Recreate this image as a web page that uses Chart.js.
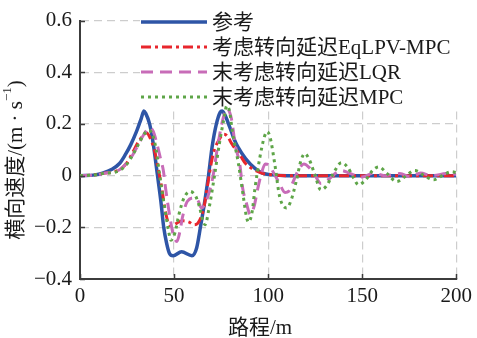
<!DOCTYPE html>
<html>
<head>
<meta charset="utf-8">
<script src="https://cdn.jsdelivr.net/npm/chart.js@4/dist/chart.umd.min.js"></script>
<style>
  html, body { margin: 0; padding: 0; background: #fff; }
</style>
</head>
<body>
<canvas id="graficoVelocidad" width="477" height="338"></canvas>
<script>
const FUENTE = "'Liberation Serif', 'Times New Roman', 'DejaVu Serif', 'Noto Sans CJK SC', serif";

// Nombres de las series (leyenda)
const nombres = ['参考', '考虑转向延迟EqLPV-MPC', '末考虑转向延迟LQR', '末考虑转向延迟MPC'];

// Referencia
const xRef = [0, 8, 12, 17, 21, 24, 27, 30, 32.5, 34, 35, 37, 39, 41.2, 43, 44.5, 46, 47.5, 49.5, 54, 59.5, 62, 64, 66.3, 68.3, 70.2, 72.5, 74.5, 75.5, 77, 79.5, 82, 84, 88, 93, 97, 102, 110, 200];
const yRef = [0, 0.003, 0.01, 0.025, 0.047, 0.08, 0.12, 0.17, 0.22, 0.25, 0.24, 0.2, 0.12, 0, -0.1, -0.2, -0.26, -0.3, -0.31, -0.295, -0.31, -0.28, -0.2, -0.1, 0, 0.11, 0.2, 0.245, 0.25, 0.235, 0.19, 0.14, 0.11, 0.066, 0.028, 0.01, 0.003, 0, 0];

// EqLPV-MPC
const xEq = [0, 8, 12, 21, 25, 28, 31, 34, 35.5, 37, 39.5, 41.5, 43.5, 45.2, 47, 48.5, 50, 53, 55, 58, 60.5, 62.5, 65.8, 68.4, 69.8, 71, 74, 76.5, 78, 81, 85, 88, 92, 96.5, 102, 110, 200];
const yEq = [0, 0.003, 0.008, 0.023, 0.05, 0.09, 0.13, 0.16, 0.165, 0.15, 0.1, 0.03, -0.05, -0.13, -0.185, -0.195, -0.19, -0.178, -0.175, -0.18, -0.19, -0.185, -0.124, -0.01, 0.05, 0.09, 0.14, 0.16, 0.155, 0.12, 0.08, 0.047, 0.025, 0.01, 0.003, 0, 0];

// LQR sin retardo
const xLqr = [0, 8, 12, 21, 25, 28, 31, 34, 37, 39, 41, 43, 44.3, 45.5, 46.5, 48, 49.3, 51.5, 53, 54.5, 57, 61, 63, 64.5, 67, 70.5, 73.3, 76, 78, 80.5, 82.5, 85, 86.5, 88.6, 90.5, 92.5, 94.5, 96.5, 98.5, 100.5, 103, 106, 109, 111, 113.5, 116, 119, 122, 125, 128, 132, 136, 139, 143, 150, 156, 162, 170, 176, 181, 187, 195, 200];
const yLqr = [0, 0.003, 0.008, 0.023, 0.05, 0.08, 0.12, 0.16, 0.186, 0.17, 0.12, 0.06, 0.02, -0.05, -0.1, -0.17, -0.22, -0.255, -0.22, -0.16, -0.1, -0.086, -0.1, -0.125, -0.1, -0.01, 0.12, 0.22, 0.26, 0.22, 0.12, 0.04, -0.05, -0.11, -0.15, -0.12, -0.05, 0.01, 0.045, 0.04, 0.01, -0.03, -0.065, -0.06, -0.02, 0.02, 0.045, 0.03, 0, -0.03, -0.015, 0.01, 0.02, 0.01, -0.005, 0.01, 0, 0.008, -0.005, 0.01, 0, 0.008, 0.005];

// MPC sin retardo
const xMpc = [0, 8, 12, 21, 25, 28, 31, 34, 36.5, 38.5, 40.5, 42.1, 44.7, 47, 48.3, 50.5, 52.6, 55.3, 58.5, 61.5, 63.5, 65.3, 66.5, 68.5, 71.5, 74, 76.5, 78, 79.5, 81, 84.2, 86.8, 88.5, 89.5, 91.5, 93, 95.6, 98, 99.5, 101, 103.5, 106.1, 109.8, 112, 115, 117.5, 119.5, 122, 125, 128, 131, 134, 139, 142.5, 145.5, 148, 152, 155.5, 158.8, 163, 168.4, 172.5, 178, 183, 188, 192.5, 197.5, 200];
const yMpc = [0, 0.003, 0.008, 0.02, 0.045, 0.08, 0.12, 0.16, 0.175, 0.16, 0.1, 0.015, -0.11, -0.21, -0.25, -0.22, -0.15, -0.086, -0.061, -0.08, -0.12, -0.175, -0.19, -0.13, 0, 0.12, 0.22, 0.27, 0.25, 0.17, 0.047, -0.08, -0.16, -0.18, -0.14, -0.05, 0.07, 0.15, 0.17, 0.15, 0.047, -0.08, -0.125, -0.1, -0.02, 0.06, 0.085, 0.06, 0, -0.055, -0.04, 0, 0.05, 0.03, -0.01, -0.035, -0.015, 0.02, 0.034, 0.01, -0.023, -0.005, 0.02, 0, -0.016, 0, 0.015, 0.012];

// Ticks
const ticksX = [0, 50, 100, 150, 200];
const ticksY = [-0.4, -0.2, 0, 0.2, 0.4, 0.6];

const puntos = (xs, ys) => xs.map((x, i) => ({ x: x, y: ys[i] }));
const formatoY = v => {
  if (Math.abs(v) < 1e-9) return '0';
  return (v < 0 ? '\u2212' : '') + Math.abs(v).toFixed(1);
};

// Fondo blanco de la leyenda (tapa la rejilla, no las curvas)
const fondoLeyenda = {
  id: 'fondoLeyenda',
  beforeDatasetsDraw(chart) {
    const ctx = chart.ctx;
    ctx.save();
    ctx.fillStyle = '#fff';
    ctx.fillRect(140, 12, 318, 95);
    ctx.restore();
  }
};

// Marcas de ticks hacia dentro, leyenda y títulos de ejes
const extras = {
  id: 'extras',
  afterDraw(chart) {
    const ctx = chart.ctx;
    const area = chart.chartArea;
    const sx = chart.scales.x, sy = chart.scales.y;
    ctx.save();
    ctx.strokeStyle = '#3c3c3c';
    ctx.lineWidth = 1.5;
    ctx.beginPath();
    ticksX.forEach(t => {
      const px = Math.round(sx.getPixelForValue(t)) + 0.5;
      ctx.moveTo(px, area.bottom); ctx.lineTo(px, area.bottom - 5);
    });
    ticksY.forEach(t => {
      const py = Math.round(sy.getPixelForValue(t)) + 0.5;
      ctx.moveTo(area.left, py); ctx.lineTo(area.left + 5, py);
    });
    ctx.stroke();

    // leyenda
    ctx.font = '21px ' + FUENTE;
    ctx.textBaseline = 'middle';
    ctx.textAlign = 'left';
    chart.data.datasets.forEach((ds, i) => {
      const y = 22 + i * 25;
      ctx.beginPath();
      ctx.setLineDash(ds.borderDash || []);
      ctx.lineWidth = ds.borderWidth;
      ctx.strokeStyle = ds.borderColor;
      ctx.moveTo(141, y); ctx.lineTo(207, y);
      ctx.stroke();
      ctx.setLineDash([]);
      ctx.fillStyle = '#1a1a1a';
      ctx.fillText(ds.label, 212, y + 1);
    });

    // título eje x
    ctx.textAlign = 'center';
    ctx.fillText('路程/m', 260, 328);

    // título eje y, con superíndice
    ctx.translate(16, 160);
    ctx.rotate(-Math.PI / 2);
    const base = '横向速度/(m · s';
    ctx.font = '21px ' + FUENTE;
    const w1 = ctx.measureText(base).width;
    ctx.font = '13px ' + FUENTE;
    const w2 = ctx.measureText('\u22121').width;
    ctx.font = '21px ' + FUENTE;
    const w3 = ctx.measureText(')').width;
    let x0 = -(w1 + w2 + w3) / 2;
    ctx.textAlign = 'left';
    ctx.fillText(base, x0, 0);
    ctx.font = '13px ' + FUENTE;
    ctx.fillText('\u22121', x0 + w1, -8);
    ctx.font = '21px ' + FUENTE;
    ctx.fillText(')', x0 + w1 + w2, 0);
    ctx.restore();
  }
};

function dibujar() {
  const ctx = document.getElementById('graficoVelocidad').getContext('2d');

  new Chart(ctx, {
    type: 'line',
    data: {
      datasets: [
        { label: nombres[0], data: puntos(xRef, yRef), borderColor: '#2e55a6', borderWidth: 3.5, order: 4 },
        { label: nombres[1], data: puntos(xEq, yEq), borderColor: '#e8262d', borderWidth: 3, borderDash: [10, 4, 3, 4], order: 3 },
        { label: nombres[2], data: puntos(xLqr, yLqr), borderColor: '#c86cb8', borderWidth: 3, borderDash: [12, 7], order: 2 },
        { label: nombres[3], data: puntos(xMpc, yMpc), borderColor: '#5ea548', borderWidth: 3, borderDash: [3, 4], order: 1 }
      ]
    },
    options: {
      responsive: false,
      animation: false,
      layout: { padding: { left: 0, top: 16, right: 17, bottom: 0 } },
      plugins: { legend: { display: false }, tooltip: { enabled: false } },
      elements: {
        point: { radius: 0 },
        line: { cubicInterpolationMode: 'monotone', fill: false }
      },
      scales: {
        x: {
          type: 'linear',
          min: 0,
          max: 200,
          afterFit: s => { s.height = 59; },
          afterBuildTicks: s => { s.ticks = ticksX.map(v => ({ value: v })); },
          ticks: { padding: 5, maxRotation: 0, color: '#1a1a1a', font: { family: FUENTE, size: 21 } },
          grid: { color: '#cdcdcd', lineWidth: 1.2, drawTicks: false },
          border: { display: true, color: '#3c3c3c', width: 2, dash: [8, 5] }
        },
        y: {
          min: -0.4,
          max: 0.6,
          afterFit: s => { s.width = 80; },
          afterBuildTicks: s => { s.ticks = ticksY.map(v => ({ value: v })); },
          ticks: { padding: 8, color: '#1a1a1a', font: { family: FUENTE, size: 21 }, callback: v => formatoY(v) },
          grid: { color: '#cdcdcd', lineWidth: 1.2, drawTicks: false },
          border: { display: true, color: '#3c3c3c', width: 2, dash: [8, 5] }
        }
      }
    },
    plugins: [fondoLeyenda, extras]
  });
}

// esperar a que la fuente serif esté lista
Promise.all([
  document.fonts.load('21px "Liberation Serif"'),
  document.fonts.load('21px "Noto Sans CJK SC"', '参考')
]).then(dibujar).catch(dibujar);
</script>
</body>
</html>
